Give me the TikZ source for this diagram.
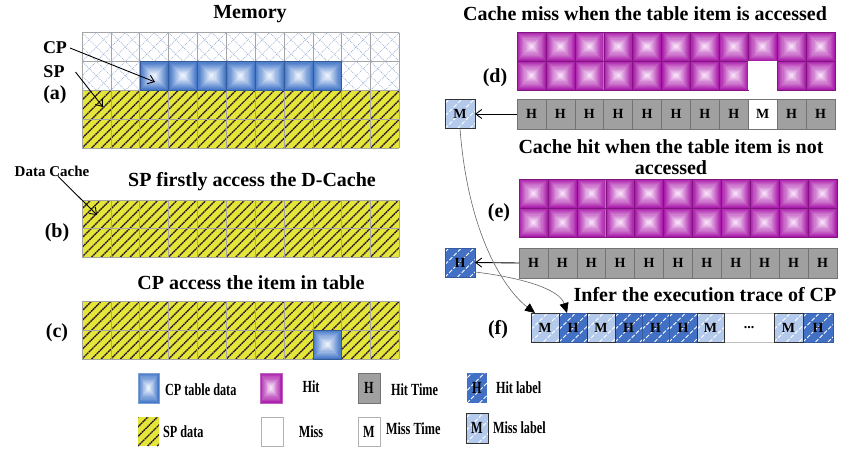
\documentclass[tikz,border=0pt]{standalone}
\usepackage{fontspec}
\setmainfont{Liberation Serif}
\newfontfamily\condfont[FakeStretch=0.72]{Liberation Serif}
\usetikzlibrary{arrows.meta,calc}
\definecolor{yel}{RGB}{228,230,58}
\definecolor{hatchc}{RGB}{45,22,40}
\definecolor{bluedark}{RGB}{70,120,200}
\definecolor{bluelight}{RGB}{232,240,252}
\definecolor{magdark}{RGB}{170,28,170}
\definecolor{maglight}{RGB}{246,220,246}
\definecolor{grayc}{RGB}{160,160,160}
\definecolor{grayb}{RGB}{115,115,115}
\definecolor{hitlab}{RGB}{66,112,196}
\definecolor{misslab}{RGB}{180,202,236}
\definecolor{xhc}{RGB}{150,172,214}
\definecolor{gridc}{RGB}{165,165,165}
\tikzset{
  every node/.style={inner sep=0pt, outer sep=0pt},
  pyr/.style 2 args={path picture={
    \foreach \t [evaluate=\t as \p using int(\t*100/12), evaluate=\t as \f using \t/27] in {0,...,12}{
      \fill[#2!\p!#1] ($(path picture bounding box.south west)!\f!(path picture bounding box.north east)$) rectangle ($(path picture bounding box.north east)!\f!(path picture bounding box.south west)$);
    }}},
  yhatch/.style={path picture={
    \foreach \k in {-8,...,42}{
      \draw[hatchc, line width=1.4pt, dash pattern=on 1.8pt off 0.6pt] ([xshift=\k*9.617pt]path picture bounding box.south west) -- ++(80pt,80pt);}}},
  xhatch/.style={path picture={
    \foreach \k in {-6,...,28}{
      \draw[xhc, line width=0.6pt, dash pattern=on 1pt off 1pt] ([xshift=\k*14.425pt]path picture bounding box.south west) -- ++(70pt,70pt);
      \draw[xhc, line width=0.6pt, dash pattern=on 1pt off 1pt] ([xshift=\k*14.425pt]path picture bounding box.north west) -- ++(70pt,-70pt);}}},
  stripes/.style={path picture={
    \foreach \k in {-3,...,2}{
      \draw[white, line width=0.8pt, dash pattern=on 4pt off 2pt] ([xshift=\k*12.5pt]path picture bounding box.south west) -- ++(45pt,45pt);}}},
  gridline/.style={gridc, line width=0.5pt},
  bluecell/.style={minimum width=28.85pt, minimum height=28.9pt, draw=bluedark!75!black, line width=0.4pt, pyr={bluedark}{bluelight}},
  magcell/.style={minimum width=28.9pt, minimum height=29pt, draw=magdark!75!black, line width=0.4pt, pyr={magdark}{maglight}},
  cellfont/.style={font=\fontsize{14}{14}\selectfont\bfseries},
  hcell/.style={cellfont, minimum width=28.9pt, minimum height=30pt, draw=grayb, line width=0.5pt, fill=grayc},
  mcell/.style={cellfont, minimum width=28.9pt, minimum height=30pt, draw=grayb, line width=0.5pt, fill=white},
  hlab/.style={cellfont, minimum height=29pt, fill=hitlab, draw=hitlab!80!black, line width=0.3pt, stripes},
  mlab/.style={cellfont, minimum height=29pt, fill=misslab, draw=black!80, line width=1pt, stripes},
  title/.style={font=\fontsize{20}{21}\selectfont\bfseries, align=center},
  side/.style={font=\fontsize{18}{18}\selectfont\bfseries},
  sub/.style={font=\fontsize{20}{20}\selectfont\bfseries},
  leg/.style={font=\fontsize{17}{17}\condfont\bfseries},
  legbox/.style={font=\fontsize{17}{17}\condfont\bfseries, minimum width=21pt, minimum height=30pt},
  blk/.style={draw=black, line width=0.9pt, -{Straight Barb[length=6pt,width=9pt]}},
  curv/.style={draw=gray!80!black, line width=0.6pt, -{Triangle[length=10pt,width=9pt,color=black,fill=black]}},
}
\begin{document}
\begin{tikzpicture}[x=1pt,y=-1pt]
\useasboundingbox (0,0) rectangle (841,450);
\fill[white] (0,0) rectangle (841,450);

% ---------- (a) memory ----------
\path[fill=white, xhatch] (82,32.5) rectangle (399.35,90.3);
\path[fill=yel, yhatch] (82,90.3) rectangle (399.35,148.1);
\foreach \i in {0,...,11} \draw[gridline] ({82+28.85*\i},32.5) -- ({82+28.85*\i},148.1);
\foreach \j in {0,...,4} \draw[gridline] (82,{32.5+28.9*\j}) -- (399.35,{32.5+28.9*\j});
\foreach \i in {2,...,8} \node[bluecell] (cp\i) at ({82+28.85*(\i+0.5)},75.85) {};

% ---------- (b) ----------
\path[fill=yel, yhatch] (82,200) rectangle (399.35,257);
\foreach \i in {0,...,11} \draw[gridline] ({82+28.85*\i},200) -- ({82+28.85*\i},257);
\foreach \y in {200,228.5,257} \draw[gridline] (82,\y) -- (399.35,\y);

% ---------- (c) ----------
\path[fill=yel, yhatch] (82,301) rectangle (399.35,359);
\foreach \i in {0,...,11} \draw[gridline] ({82+28.85*\i},301) -- ({82+28.85*\i},359);
\foreach \y in {301,330,359} \draw[gridline] (82,\y) -- (399.35,\y);
\node[bluecell] (cpc) at (327.2,344.5) {};

% ---------- titles left ----------
\node[title] (tmem) at (250,14) {Memory};
\node[title] (tb) at (252,182) {SP firstly access the D-Cache};
\node[title] (tc) at (251,283) {CP access the item in table};
\node[side] (cpl) at (55,48) {CP};
\node[side] (spl) at (54,72) {SP};
\node[sub] (al) at (55,95) {(a)};
\node[font=\fontsize{15}{15}\selectfont\bfseries] (dcl) at (52,171) {Data Cache};
\node[sub] (bl) at (57,233) {(b)};
\node[sub] (cl) at (57,333) {(c)};

\coordinate (cpend) at (155,82);
\coordinate (spend) at (103,107);
\coordinate (dcend) at (97,215);
\draw[blk] ([xshift=3pt]cpl.east) -- (cpend);
\draw[blk] ([xshift=11pt]spl.east) -- (spend);
\draw[blk] ([xshift=6pt]dcl.south) -- (dcend);

% ---------- (d) ----------
\node[title] (td) at (645,14) {Cache miss when the table item is accessed};
\foreach \i in {0,...,10}{
  \node[magcell] (d0\i) at ({517+28.9*(\i+0.5)},46.5) {};
  \ifnum\i=8
    \node[minimum width=28.9pt, minimum height=29pt, fill=white] (d1\i) at ({517+28.9*(\i+0.5)},75.5) {};
  \else
    \node[magcell] (d1\i) at ({517+28.9*(\i+0.5)},75.5) {};
  \fi
}
\node[sub] (dl) at (495,78) {(d)};
\foreach \i in {0,...,10}{
  \ifnum\i=8
    \node[mcell] (hd\i) at ({517+28.9*(\i+0.5)},114) {M};
  \else
    \node[hcell] (hd\i) at ({517+28.9*(\i+0.5)},114) {H};
  \fi
}
\node[mlab, minimum width=30pt] (mbox) at (460,114) {M};
\draw[blk] (hd0.west) -- (mbox.east);

% ---------- (e) ----------
\node[title] (te) at (671,157.5) {Cache hit when the table item is not\\accessed};
\foreach \i in {0,...,10}{
  \node[magcell] (e0\i) at ({519+28.9*(\i+0.5)},193.5) {};
  \node[magcell] (e1\i) at ({519+28.9*(\i+0.5)},222.5) {};
}
\node[sub] (el) at (499,213) {(e)};
\foreach \i in {0,...,10}
  \node[hcell] (he\i) at ({519+28.9*(\i+0.5)},263) {H};
\node[hlab, minimum width=30pt] (hbox) at (460,262.5) {H};
\draw[blk] (he0.west) -- (hbox.east);

% ---------- (f) ----------
\node[title] (tf) at (705,295) {Infer the execution trace of CP};
\node[sub] (fl) at (498,330) {(f)};
\node[hlab, minimum width=28pt] (f2) at (573,327.5) {H};
\node[hlab, minimum width=27pt] (f4) at (628.5,327.5) {H};
\node[hlab, minimum width=27pt] (f5) at (655.5,327.5) {H};
\node[hlab, minimum width=28pt] (f6) at (683,327.5) {H};
\node[hlab, minimum width=30pt] (f10) at (818,327.5) {H};
\node[cellfont, minimum width=50pt, minimum height=29pt, draw=gray!50, line width=0.6pt, fill=white] (f8) at (749,327.5) {...};
\node[mlab, minimum width=28pt] (f1) at (545,327.5) {M};
\node[mlab, minimum width=28pt] (f3) at (601,327.5) {M};
\node[mlab, minimum width=27pt] (f7) at (710.5,327.5) {M};
\node[mlab, minimum width=29pt] (f9) at (788.5,327.5) {M};

\draw[curv] (mbox.south) .. controls (468,235) and (505,290) .. ([xshift=4pt]f1.north west);
\draw[curv] ([yshift=-9.5pt]hbox.east) .. controls (525,278) and (560,290) .. ([xshift=8pt]f2.north west);

% ---------- legend ----------
\node[legbox, pyr={bluedark}{bluelight}, draw=bluedark!70] (lg1) at (148.5,388) {};
\node[leg, anchor=west] (lt1) at (165,390) {CP table data};
\node[legbox, minimum width=22pt, pyr={magdark}{maglight}, draw=magdark!70] (lg2) at (271,388) {};
\node[leg] (lt2) at (311,387) {Hit};
\node[legbox, minimum width=22pt, fill=grayc, draw=grayb, line width=0.5pt] (lg3) at (369,388) {H};
\node[leg, anchor=west] (lt3) at (391,390) {Hit Time};
\node[legbox, minimum width=20pt, fill=hitlab, stripes] (lg4) at (477,388) {H};
\node[leg, anchor=west] (lt4) at (496,388) {Hit label};

\path[fill=yel, yhatch] (138,417) rectangle (159,446);
\node[leg, anchor=west] (lt5) at (163,432) {SP data};
\node[legbox, minimum width=22pt, minimum height=29pt, draw=gray!60, line width=0.5pt] (lg6) at (272,431.5) {};
\node[leg] (lt6) at (311,432) {Miss};
\node[legbox, minimum width=22pt, minimum height=29pt, draw=gray!60, line width=0.5pt] (lg7) at (369,431.5) {M};
\node[leg, anchor=west] (lt7) at (386,429) {Miss Time};
\node[legbox, minimum width=22pt, fill=misslab, draw=black!80, line width=1pt, stripes] (lg8) at (477,428) {M};
\node[leg, anchor=west] (lt8) at (493,428) {Miss label};
\end{tikzpicture}
\end{document}
